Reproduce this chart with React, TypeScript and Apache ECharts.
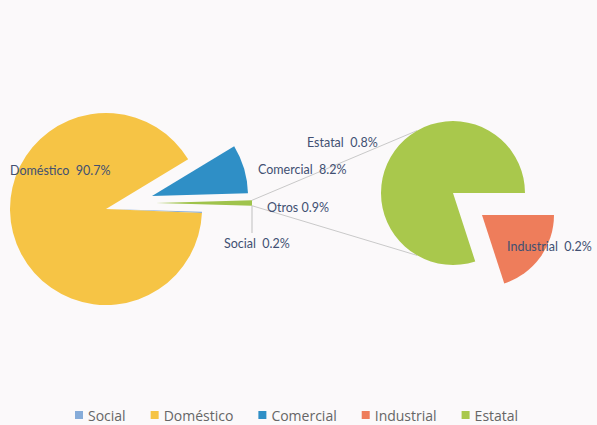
import React, { useEffect, useRef } from "react";
import * as echarts from "echarts";

// Primary pie (clockwise from 3 o'clock): Otros, Social, Doméstico, Comercial
const leftNames = ["Otros", "Social", "Doméstico", "Comercial"];
const leftValues = [0.9, 0.2, 90.7, 8.2];
// Secondary pie (breakdown of Otros)
const rightNames = ["Industrial", "Estatal"];
const rightValues = [0.2, 0.8];
const legendNames = ["Social", "Doméstico", "Comercial", "Industrial", "Estatal"];

const colors: Record<string, string> = {
  Social: "#86acd9",
  "Doméstico": "#f6c445",
  Comercial: "#2f8fc6",
  Industrial: "#ee7d5b",
  Estatal: "#a9c84c",
  Otros: "#9fc34c",
};

const FONT = "Lato, 'Open Sans', sans-serif";
const LEGEND_FONT = "'Open Sans', Lato, sans-serif";
const LABEL_COLOR = "#415072";

export default function App() {
  const ref = useRef<HTMLDivElement>(null);

  useEffect(() => {
    if (!ref.current) return;
    const chart = echarts.init(ref.current, undefined, { renderer: "svg" });

    const leftC = [106, 209];
    const leftR = 96;
    const rightC = [453, 193];
    const rightR = 72;

    const leftTotal = leftValues.reduce((a, b) => a + b, 0);
    const otrosDeg = (leftValues[0] / leftTotal) * 360;
    const leftStart = otrosDeg / 2;

    const explode: Record<string, number[]> = {
      Comercial: [46, -13],
      Otros: [50, -6],
      Industrial: [29, 22],
    };

    // label placements (left edge x, middle y)
    const labelPos: Record<string, number[]> = {
      "Doméstico": [10, 170],
      Comercial: [258, 169],
      Otros: [267, 207],
      Social: [224, 243],
      Estatal: [307, 142],
      Industrial: [507, 246],
    };

    const makeSeries = (
      names: string[],
      values: number[],
      visible: string[],
      center: number[],
      r: number,
      startAngle: number,
      off: number[]
    ) => ({
      type: "pie",
      radius: r,
      center: [center[0] + off[0], center[1] + off[1]],
      startAngle,
      clockwise: true,
      silent: true,
      avoidLabelOverlap: false,
      label: { show: false },
      labelLine: { show: false },
      itemStyle: { borderWidth: 0 },
      emphasis: { disabled: true },
      data: names.map((n, i) => {
        const vis = visible.includes(n);
        return {
          name: n,
          value: values[i],
          itemStyle: { color: vis ? colors[n] : "rgba(0,0,0,0)" },
          label: {
            show: vis,
            position: "outside",
            formatter: n === "Otros" ? "{b} {c}%" : "{b}  {c}%",
            color: LABEL_COLOR,
            fontFamily: FONT,
            fontSize: 12.5,
          },
          labelLine: {
            show: vis && n === "Social",
            lineStyle: { color: "#bfbfbf", width: 1 },
          },
        };
      }),
      labelLayout: (p: any) => {
        const pos = labelPos[names[p.dataIndex]];
        if (!pos) return {};
        const res: any = { x: pos[0], y: pos[1], align: "left", verticalAlign: "middle" };
        if (names[p.dataIndex] === "Social") {
          const sx = leftC[0] + explode.Otros[0] + leftR;
          res.labelLinePoints = [
            [sx, 206],
            [sx, 219],
            [sx, 233],
          ];
        }
        return res;
      },
    });

    const series = [
      makeSeries(leftNames, leftValues, ["Doméstico", "Social"], leftC, leftR, leftStart, [0, 0]),
      makeSeries(leftNames, leftValues, ["Comercial"], leftC, leftR, leftStart, explode.Comercial),
      makeSeries(leftNames, leftValues, ["Otros"], leftC, leftR, leftStart, explode.Otros),
      makeSeries(rightNames, rightValues, ["Estatal"], rightC, rightR, 0, [0, 0]),
      makeSeries(rightNames, rightValues, ["Industrial"], rightC, rightR, 0, explode.Industrial),
    ];

    // connector lines from Otros slice to secondary pie
    const oc = [leftC[0] + explode.Otros[0], leftC[1] + explode.Otros[1]];
    const h = (otrosDeg / 2) * (Math.PI / 180);
    const a = (120 * Math.PI) / 180;
    const p1 = [oc[0] + leftR * Math.cos(h), oc[1] - leftR * Math.sin(h)];
    const p2 = [oc[0] + leftR * Math.cos(h), oc[1] + leftR * Math.sin(h)];
    const q1 = [rightC[0] + rightR * Math.cos(a), rightC[1] - rightR * Math.sin(a)];
    const q2 = [rightC[0] + rightR * Math.cos(a), rightC[1] + rightR * Math.sin(a)];

    chart.setOption({
      animation: false,
      backgroundColor: "#fbf9fa",
      legend: {
        top: 403,
        left: 70,
        icon: "rect",
        itemWidth: 8,
        itemHeight: 8,
        itemGap: 25,
        selectedMode: false,
        textStyle: { fontSize: 14, color: "#666666", fontFamily: LEGEND_FONT },
        data: legendNames.map((n) => ({ name: n, itemStyle: { color: colors[n] } })),
      },
      graphic: [
        {
          type: "line",
          z: 0,
          shape: { x1: p1[0], y1: p1[1], x2: q1[0], y2: q1[1] },
          style: { stroke: "#c9c9c9", lineWidth: 1 },
        },
        {
          type: "line",
          z: 0,
          shape: { x1: p2[0], y1: p2[1], x2: q2[0], y2: q2[1] },
          style: { stroke: "#c9c9c9", lineWidth: 1 },
        },
      ],
      series,
    });

    return () => chart.dispose();
  }, []);

  return (
    <div
      ref={ref}
      style={{ position: "fixed", left: 0, top: 0, width: 597, height: 425 }}
    />
  );
}
